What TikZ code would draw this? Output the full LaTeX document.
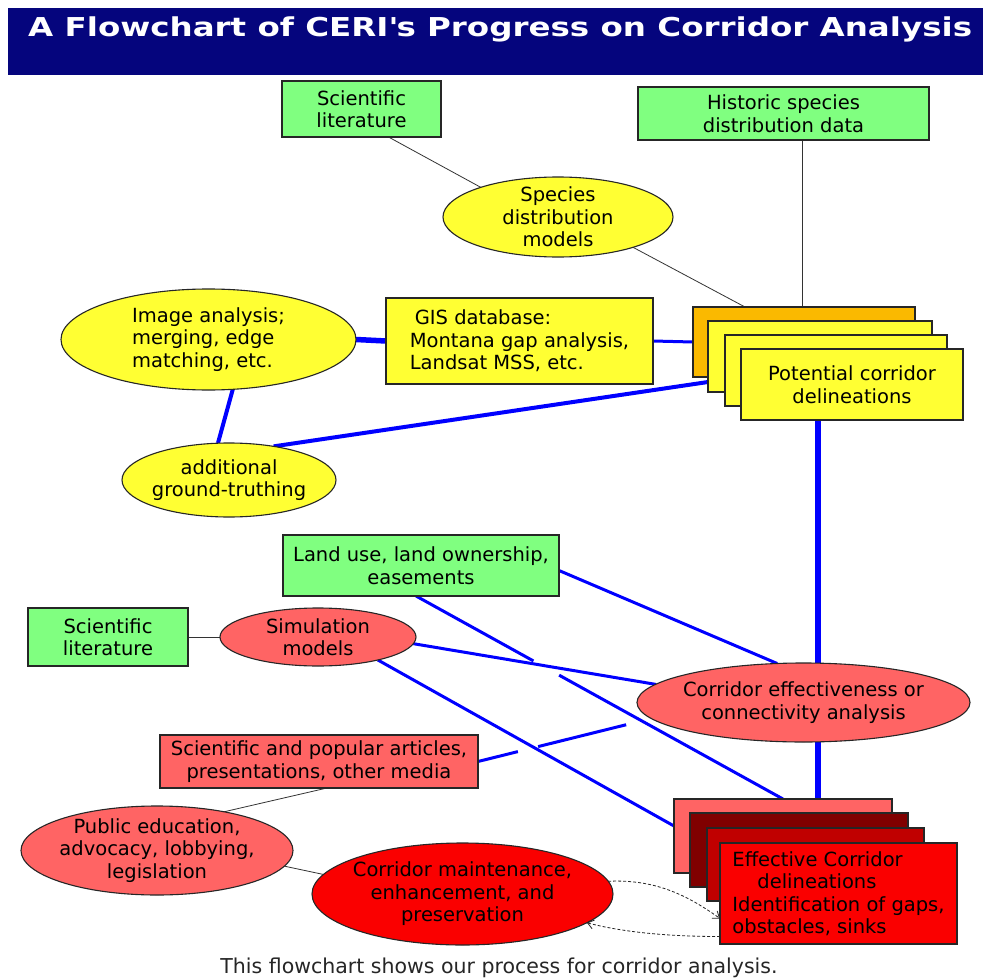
\documentclass[tikz,border=0pt]{standalone}
\usepackage{fontspec}
\setmainfont{DejaVu Sans}
\newfontfamily\ttlfont{DejaVu Sans Bold}[FakeStretch=1.25]
\usetikzlibrary{shapes.geometric,calc,arrows.meta}
\pgfdeclarelayer{bg}
\pgfsetlayers{bg,main}
\definecolor{navybar}{RGB}{5,5,125}
\definecolor{lgreen}{RGB}{128,255,128}
\definecolor{yel}{RGB}{255,255,51}
\definecolor{goldor}{RGB}{250,185,0}
\definecolor{salmon}{RGB}{255,100,100}
\definecolor{redA}{RGB}{250,0,0}
\definecolor{dredB}{RGB}{128,0,0}
\definecolor{mredC}{RGB}{192,0,0}
\definecolor{lineblue}{RGB}{0,0,255}
\newcommand\myfnt{\fontsize{19.5}{22.5}\selectfont}
\tikzset{
  box/.style={rectangle, draw=black!85, line width=1.3pt, inner sep=0pt, outer sep=0pt, font=\myfnt, align=center},
  ell/.style={ellipse, draw=black!85, line width=1.1pt, inner sep=0pt, outer sep=0pt},
  txt/.style={font=\myfnt, align=center, inner sep=0pt},
  bl/.style={lineblue, line width=3pt},
  blmid/.style={lineblue, line width=4pt},
  blthick/.style={lineblue, line width=5.5pt},
  thinln/.style={black!80, line width=0.8pt},
  arr/.style={black!85, line width=0.8pt, densely dashed, -{Straight Barb[length=6pt,width=9pt]}}
}
\begin{document}
\begin{tikzpicture}[x=1pt, y=-1pt]
\useasboundingbox (0,0) rectangle (983,979);
% title
\node[fill=navybar, minimum width=975, minimum height=67, anchor=north west, inner sep=0pt] (tbar) at (8,8) {};
\node[anchor=base west, text=white, font=\ttlfont\fontsize{26}{30}\selectfont, inner sep=0pt] (ttext) at (28,37) {A Flowchart of CERI\textquotesingle s Progress on Corridor Analysis};
% upper part
\node[box, fill=lgreen, minimum width=159, minimum height=56] (sl1) at (361.5,109) {Scientific\\literature};
\node[box, fill=lgreen, minimum width=291, minimum height=53] (hist) at (783.5,113.5) {Historic species\\distribution data};
\node[ell, fill=yel, minimum width=230, minimum height=80, label={[txt]center:{Species\\distribution\\models}}] (spec) at (558,217) {};
\node[ell, fill=yel, minimum width=295, minimum height=101, label={[txt, align=left]center:{Image analysis;\\merging, edge\\matching, etc.}}] (img) at (208.5,339.5) {};
\node[box, fill=yel, minimum width=267, minimum height=86, align=left] (gis) at (519.5,341) {\hspace*{5pt}GIS database:\\Montana gap analysis,\\Landsat MSS, etc.};
\node[box, fill=goldor, minimum width=222, minimum height=70] (pA) at (804,342) {};
\node[box, fill=yel, minimum width=224, minimum height=71] (pB) at (820,356.5) {};
\node[box, fill=yel, minimum width=222, minimum height=71] (pC) at (836,370.5) {};
\node[box, fill=yel, minimum width=222, minimum height=71] (pD) at (852,384.5) {Potential corridor\\delineations};
\node[ell, fill=yel, minimum width=214, minimum height=74, label={[txt]center:{additional\\ground-truthing}}] (gt) at (229,480) {};
% lower part
\node[box, fill=lgreen, minimum width=276, minimum height=61] (land) at (421,565.5) {Land use, land ownership,\\easements};
\node[box, fill=lgreen, minimum width=160, minimum height=58] (sl2) at (108,637) {Scientific\\literature};
\node[ell, fill=salmon, minimum width=196, minimum height=58, label={[txt]center:{Simulation\\models}}] (sim) at (318,637) {};
\node[ell, fill=salmon, minimum width=333, minimum height=79, label={[txt]center:{Corridor effectiveness or\\connectivity analysis}}] (cea) at (803.5,702.5) {};
\node[box, fill=salmon, minimum width=318, minimum height=53] (art) at (319,761.5) {Scientific and popular articles,\\presentations, other media};
\node[ell, fill=salmon, minimum width=272, minimum height=89, label={[txt]center:{Public education,\\advocacy, lobbying,\\legislation}}] (pub) at (157,850.5) {};
\node[ell, fill=redA, minimum width=301, minimum height=102, label={[txt]center:{Corridor maintenance,\\enhancement, and\\preservation}}] (maint) at (462.5,894) {};
\node[box, fill=salmon, minimum width=218, minimum height=74] (eA) at (783,836) {};
\node[box, fill=dredB, minimum width=218, minimum height=74] (eB) at (799,850) {};
\node[box, fill=mredC, minimum width=217, minimum height=73] (eC) at (815.5,864.5) {};
\node[box, fill=redA, minimum width=237, minimum height=101, align=left] (eD) at (838.5,893.5) {Effective Corridor\\\hspace*{25pt}delineations\\Identification of gaps,\\obstacles, sinks};
% caption
\node[anchor=base, font=\fontsize{20.5}{24}\selectfont, text=black!85, inner sep=0pt] (cap) at (499,973) {This flowchart shows our process for corridor analysis.};
% connectors
\begin{pgfonlayer}{bg}
\fill[white] (0,0) rectangle (983,979);
\draw[thinln] ($(sl1.south)+(27,0)$) -- (spec.159);
\draw[thinln] (spec.-22) -- ($(pA.north west)+(52,0)$);
\coordinate (hx) at ($(hist.south)+(19,0)$);
\draw[thinln] (hx) -- (hx |- pA.north);
\draw[blthick] (img.east) -- (gis.west);
\draw[bl] (gis.east) -- (pA.west);
\draw[blmid] (img.-64) -- ($(gt.north)+(-11,0)$);
\draw[blmid] (gt.37) -- ($(pB.south west)+(0,-10)$);
\coordinate (vx) at ($(pD.south)+(-34,0)$);
\draw[blthick] (vx) -- (vx |- cea.north);
\draw[blthick] (vx |- cea.south) -- (vx |- eA.north);
\draw[bl] ($(land.east)+(0,5)$) -- (cea.124);
\coordinate (ls) at ($(land.south)+(-5,0)$);
\draw[bl] (ls) -- ($(ls)!0.32!(eA.north)$);
\draw[bl] ($(ls)!0.39!(eA.north)$) -- (eA.north);
\draw[bl] (sim.-4) -- (cea.173);
\draw[bl] (sim.-21) -- ($(eA.west)+(0,-10)$);
\draw[bl] (art.east) -- ($(art.east)!0.23!(cea.186)$);
\draw[bl] ($(art.east)!0.347!(cea.186)$) -- ($(art.east)!0.855!(cea.186)$);
\draw[thinln] ($(art.south)+(8,0)$) -- (pub.30);
\draw[thinln] (sl2.east) -- (sim.west);
\draw[thinln] (pub.-7) -- (maint.172);
\end{pgfonlayer}
\draw[arr] (maint.5) .. controls +(45,-2) and +(-35,-25) .. ($(eD.west)+(0,25)$);
\draw[arr] ($(eD.west)+(0,43)$) .. controls +(-60,0) and +(30,8) .. (maint.-13);
\end{tikzpicture}
\end{document}
